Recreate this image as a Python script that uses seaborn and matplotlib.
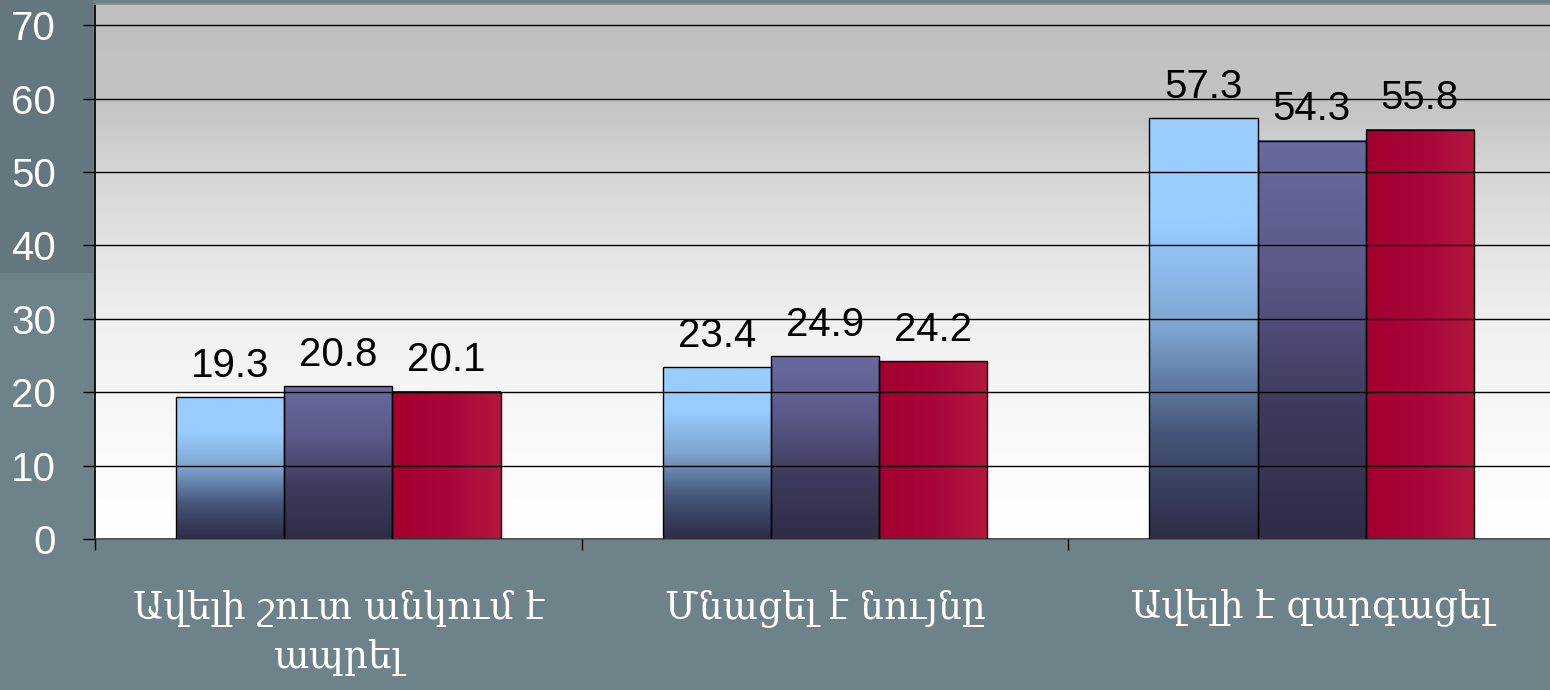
import numpy as np
import pandas as pd
import matplotlib
matplotlib.use("Agg")
import matplotlib.pyplot as plt
import seaborn as sns
from matplotlib.colors import LinearSegmentedColormap
from matplotlib.patches import Rectangle

# --- DATA ---
categories = ["Ավելի շուտ անկում է\nապրել", "Մնացել է նույնը", "Ավելի է զարգացել"]
series_names = ["series_1", "series_2", "series_3"]
values_1 = [19.3, 23.4, 57.3]
values_2 = [20.8, 24.9, 54.3]
values_3 = [20.1, 24.2, 55.8]
y_ticks = [0, 10, 20, 30, 40, 50, 60, 70]

df = pd.DataFrame({
    "category": categories * 3,
    "series": [s for s in series_names for _ in categories],
    "value": values_1 + values_2 + values_3,
})

# --- VISUAL CONFIGURATION ---
sns.set_theme(style="white")
plt.rcParams['font.family'] = ['Liberation Sans', 'DejaVu Sans']

bg = "#6e828a"
fig = plt.figure(figsize=(15.5, 6.9), dpi=100, facecolor=bg)
fig.patches.append(Rectangle((0, 0.605), 0.06, 0.395, transform=fig.transFigure,
                             facecolor="#64777f", edgecolor="none", zorder=-5))
ax = fig.add_axes([0.0613, 0.2188, 0.942, 0.7754])

sns.barplot(data=df, x="category", y="value", hue="series", order=categories,
            hue_order=series_names, width=0.667, gap=0, dodge=True,
            palette=["#99ccff", "#6a6a9f", "#a50032"], edgecolor="black",
            linewidth=1.0, legend=False, ax=ax, zorder=3)

# plot area gradient (gray top -> white bottom)
bg_grad = np.linspace(0, 1, 256).reshape(-1, 1)
bg_cmap = LinearSegmentedColormap.from_list(
    "bg", [(0.0, "#ffffff"), (0.14, "#fbfbfb"), (0.41, "#f0f0f0"),
           (0.55, "#e3e3e3"), (0.69, "#d5d5d5"), (0.82, "#c3c3c3"), (1.0, "#bfbfbf")])
ax.imshow(bg_grad, extent=[0, 1, 0, 1], transform=ax.transAxes, origin="lower",
          aspect="auto", cmap=bg_cmap, zorder=0)

# bar gradients
cmaps = [
    LinearSegmentedColormap.from_list("b", ["#2d2c47", "#46567a", "#7ea4d0", "#99ccff", "#99ccff"]),
    LinearSegmentedColormap.from_list("p", ["#2e2d47", "#3d3b5c", "#5a5988", "#6a6a9f"]),
]
red_cmap = LinearSegmentedColormap.from_list("r", ["#a3002f", "#a8063a", "#b2173f"])
bars = [p for p in ax.patches if p.get_height() > 0]
bars.sort(key=lambda p: p.get_x())
vert = np.linspace(0, 1, 256).reshape(-1, 1)
horiz = np.linspace(0, 1, 64).reshape(1, -1)
for i, p in enumerate(bars):
    k = i % 3
    x0, w, h = p.get_x(), p.get_width(), p.get_height()
    if k < 2:
        ax.imshow(vert, extent=[x0, x0 + w, 0, h], origin="lower", aspect="auto",
                  cmap=cmaps[k], zorder=2.5)
    else:
        ax.imshow(horiz, extent=[x0, x0 + w, 0, h], origin="lower", aspect="auto",
                  cmap=red_cmap, zorder=2.5)
    p.set_facecolor("none")

for c in ax.containers:
    ax.bar_label(c, labels=[f"{v:.1f}" for v in c.datavalues], padding=9,
                 fontsize=29, color="black")

ax.set_xlim(-0.5, 2.5)
ax.set_ylim(0, 72.9)
ax.set_yticks(y_ticks)
ax.yaxis.grid(True, color="black", linewidth=1.0, zorder=1)
ax.set_axisbelow(False)
for line in ax.get_ygridlines():
    line.set_zorder(1)

ax.set_xlabel("")
ax.set_ylabel("")
ax.tick_params(axis="y", direction="out", length=9, width=1, color="black",
               labelcolor="white", labelsize=29, pad=19, left=True)
ax.tick_params(axis="x", which="major", length=0, labelcolor="white",
               labelsize=27, pad=36)
ax.set_xticks([-0.5, 0.5, 1.5, 2.5], minor=True)
ax.tick_params(axis="x", which="minor", direction="out", length=8, width=1,
               color="black", bottom=True)
for lab in ax.get_xticklabels():
    lab.set_family(['DejaVu Serif', 'DejaVu Sans'])
    lab.set_linespacing(1.45)

ax.spines["left"].set_color("black")
ax.spines["bottom"].set_color("#555555")
ax.spines["top"].set_color("#8a8a8a")
ax.spines["right"].set_visible(False)

plt.savefig("out.png", dpi=100, facecolor=bg)
